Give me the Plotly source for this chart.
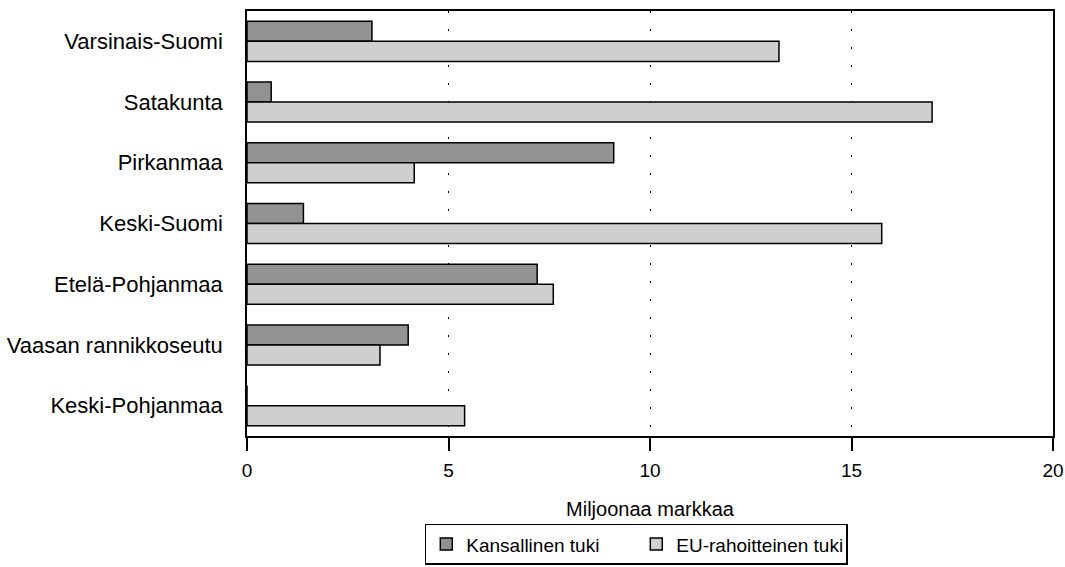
import plotly.graph_objects as go

regions = ["Varsinais-Suomi", "Satakunta", "Pirkanmaa", "Keski-Suomi",
           "Etelä-Pohjanmaa", "Vaasan rannikkoseutu", "Keski-Pohjanmaa"]
kansallinen = [3.1, 0.6, 9.1, 1.4, 7.2, 4.0, 0.0]
eu_rahoitteinen = [13.2, 17.0, 4.15, 15.75, 7.6, 3.3, 5.4]
x_ticks = [0, 5, 10, 15, 20]

FONT = "Liberation Sans, Arial, sans-serif"

fig = go.Figure()
fig.add_trace(go.Bar(
    y=regions, x=kansallinen, orientation="h", name="Kansallinen tuki",
    marker=dict(color="#929292", line=dict(color="black", width=1.5)),
))
fig.add_trace(go.Bar(
    y=regions, x=eu_rahoitteinen, orientation="h", name="EU-rahoitteinen tuki",
    marker=dict(color="#cfcfcf", line=dict(color="black", width=1.5)),
))

fig.update_layout(
    width=1065, height=567,
    margin=dict(l=247, r=12, t=11, b=131, autoexpand=False),
    paper_bgcolor="white", plot_bgcolor="white",
    font=dict(family=FONT, size=19, color="black"),
    barmode="group", bargap=0.34, bargroupgap=0,
    showlegend=True,
    legend=dict(
        orientation="h", x=0.483, xanchor="center",
        yref="container", y=0.004, yanchor="bottom",
        bordercolor="black", borderwidth=1.5, font=dict(size=19),
        entrywidth=165, entrywidthmode="pixels", itemwidth=30, tracegroupgap=0,
    ),
    xaxis=dict(
        range=[0, 20], tickvals=x_ticks, ticktext=[str(v) for v in x_ticks],
        showgrid=True, gridcolor="black", gridwidth=1, griddash="2px,16px",
        showline=True, linecolor="black", linewidth=1.5, mirror=True,
        ticks="outside", ticklen=13, tickcolor="black", tickwidth=1.5,
        ticklabelstandoff=3, zeroline=False,
        title=dict(text="Miljoonaa markkaa", standoff=22, font=dict(size=20)),
    ),
    yaxis=dict(
        autorange="reversed", showgrid=False,
        showline=True, linecolor="black", linewidth=1.5, mirror=True,
        ticks="", ticklabelstandoff=18, tickfont=dict(size=22),
    ),
)

# remove the browser's default 8px page margin so the figure fills the window
fig.write_html(
    "out.html",
    config={"displayModeBar": False},
    post_script="document.body.style.margin='0';document.body.style.overflow='hidden';",
)
